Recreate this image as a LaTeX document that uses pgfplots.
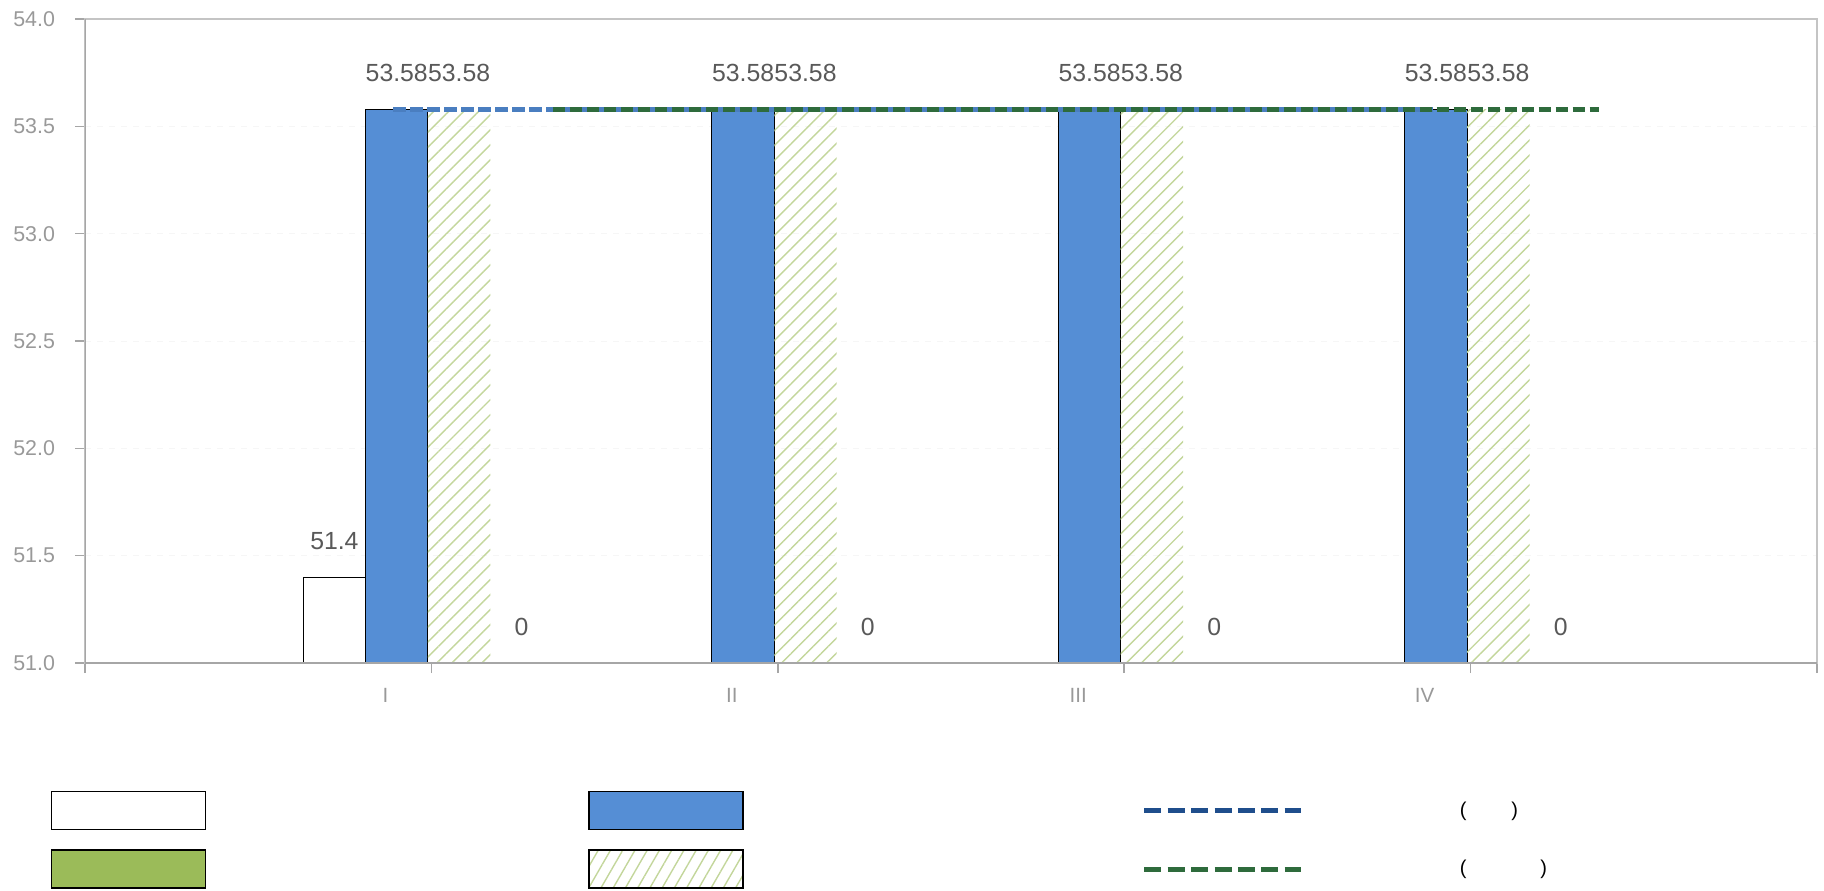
\documentclass[border=0pt]{standalone}
\usepackage{fontspec}
\setmainfont{Liberation Sans}
\usepackage{pgfplots}
\pgfplotsset{compat=1.18}
\usetikzlibrary{patterns.meta}
\definecolor{barblue}{HTML}{558ED5}
\definecolor{hatchgreen}{HTML}{C3D69B}
\definecolor{solidgreen}{HTML}{9BBB59}
\definecolor{lineblue}{HTML}{4A7EC0}
\definecolor{legblue}{HTML}{1F4E8C}
\definecolor{linegreen}{HTML}{2E6B3C}
\definecolor{axisgray}{HTML}{A6A6A6}
\definecolor{framegray}{HTML}{C4C4C4}
\definecolor{ticklabgray}{HTML}{999999}
\definecolor{labelgray}{HTML}{595959}
\begin{document}
\begin{tikzpicture}
\path[use as bounding box] (0,0) rectangle (912pt,445pt);
\begin{axis}[
  at={(42.5pt,113.5pt)}, anchor=south west,
  scale only axis, width=866pt, height=322pt,
  xmin=0, xmax=5, ymin=51, ymax=54,
  xtick={0,1,2,3,4,5}, xticklabels={,I,II,III,IV,},
  ytick={51,51.5,52,52.5,53,53.5,54},
  /pgf/number format/assume math mode=true,
  yticklabel style={/pgf/number format/fixed, /pgf/number format/fixed zerofill, /pgf/number format/precision=1,
     font=\fontsize{10.7}{12}\selectfont, text=ticklabgray, xshift=-6.5pt},
  xticklabel style={font=\fontsize{10.3}{12}\selectfont, text=ticklabgray, xshift=-23pt, yshift=-4pt},
  tick align=outside, major tick length=5pt,
  xtick pos=bottom, ytick pos=left,
  tick style={draw=axisgray, line width=0.8pt},
  axis line style={draw=framegray, line width=0.6pt},
  ymajorgrids, grid style={draw=gray!7, dashed},
  every node near coord/.append style={font=\fontsize{12.4}{14}\selectfont, text=labelgray, anchor=center, yshift=18pt},
  legend columns=3, legend cell align=left,
  legend style={at={(0,0)}, anchor=north west, xshift=-17pt, yshift=-64pt,
     draw=none, fill=none, inner sep=0pt, outer sep=0pt, column sep=0pt, row sep=9.5pt,
     nodes={inner sep=0pt, font=\fontsize{10}{12}\selectfont, text=black}},
]
% white bars
\addplot[forget plot, ybar, bar width=0.18, bar shift=0pt, fill=white, draw=black, line width=0.5pt, nodes near coords]
  coordinates {(0.72,51.4)};
% blue bars
\addplot[forget plot, ybar, bar width=0.18, bar shift=0pt, fill=barblue, draw=black, line width=0.5pt, nodes near coords]
  coordinates {(0.90,53.58) (1.90,53.58) (2.90,53.58) (3.90,53.58)};
% hatched bars
\addplot[forget plot, ybar, bar width=0.18, bar shift=0pt, draw=none,
  pattern={Lines[angle=45,distance=5.3pt,line width=0.7pt]}, pattern color=hatchgreen, nodes near coords]
  coordinates {(1.08,53.58) (2.08,53.58) (3.08,53.58) (4.08,53.58)};
% green bars (value 0, below the axis range): labels only
\addplot[forget plot, draw=none, point meta=explicit, nodes near coords]
  coordinates {(1.26,51) [0] (2.26,51) [0] (3.26,51) [0] (4.26,51) [0]};
% lines
\addplot[forget plot, lineblue, line width=2.5pt, dash pattern=on 6.3pt off 2.2pt]
  coordinates {(0.89,53.58) (1.89,53.58) (2.89,53.58) (3.89,53.58)};
\addplot[forget plot, linegreen, line width=2.5pt, dash pattern=on 6.3pt off 2.2pt]
  coordinates {(1.35,53.58) (2.36,53.58) (3.36,53.58) (4.37,53.58)};
\draw[axisgray, line width=1pt] (rel axis cs:0,0) -- (rel axis cs:0,1);
\draw[axisgray, line width=1pt] (rel axis cs:0,0) -- (rel axis cs:1,0);
% legend
\addlegendimage{legend image code/.code={\draw[fill=white,draw=black,line width=0.7pt] (0pt,-9.5pt) rectangle (77pt,9.5pt);}}
\addlegendentry{\hspace*{191pt}}
\addlegendimage{legend image code/.code={\draw[fill=barblue,draw=black,line width=0.7pt] (0pt,-9.5pt) rectangle (77pt,9.5pt);}}
\addlegendentry{\hspace*{199pt}}
\addlegendimage{legend image code/.code={\draw[legblue,line width=2.5pt,dash pattern=on 8.5pt off 3.2pt] (0pt,0pt) -- (78.5pt,0pt);}}
\addlegendentry{\hspace*{78pt}(\hspace*{22.5pt})}
\addlegendimage{legend image code/.code={\draw[fill=solidgreen,draw=black,line width=0.7pt] (0pt,-9.5pt) rectangle (77pt,9.5pt);}}
\addlegendentry{\hspace*{191pt}}
\addlegendimage{legend image code/.code={\draw[pattern={Lines[angle=60,distance=5.3pt,line width=0.7pt]},pattern color=hatchgreen,draw=black,line width=0.7pt] (0pt,-9.5pt) rectangle (77pt,9.5pt);}}
\addlegendentry{\hspace*{199pt}}
\addlegendimage{legend image code/.code={\draw[linegreen,line width=2.5pt,dash pattern=on 8.5pt off 3.2pt] (0pt,0pt) -- (78.5pt,0pt);}}
\addlegendentry{\hspace*{78pt}(\hspace*{37pt})}
\end{axis}
\end{tikzpicture}
\end{document}
